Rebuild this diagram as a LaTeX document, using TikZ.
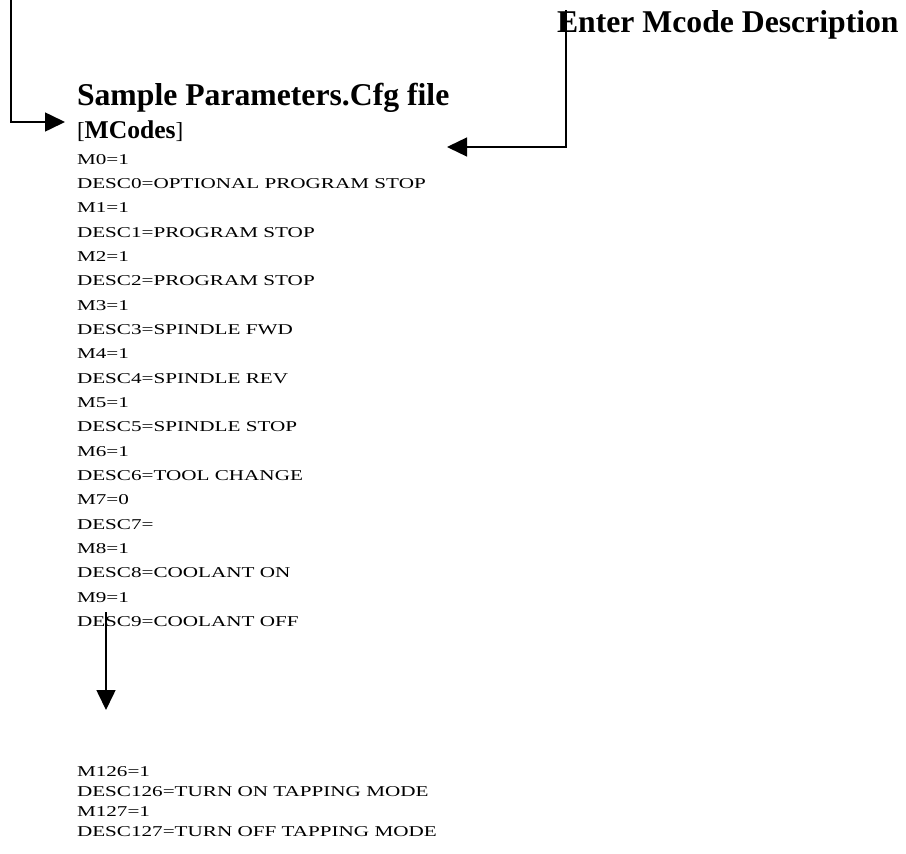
\documentclass[tikz,border=0pt]{standalone}
\usepackage{fontspec}
\setmainfont{Liberation Serif}
\newfontfamily\listfont[FakeStretch=1.41]{Liberation Serif}
\usetikzlibrary{arrows.meta}
\tikzset{
  plain/.style={inner sep=0pt, outer sep=0pt, anchor=base west},
  heading/.style={plain, font=\fontsize{31.7}{38}\selectfont\bfseries},
  listtext/.style={plain, font=\listfont\fontsize{15}{18}\selectfont},
  conn/.style={line width=1.6pt, -{Triangle[length=20pt,width=19pt]}},
}
\begin{document}
\begin{tikzpicture}[x=1pt,y=1pt]
\useasboundingbox (0,0) rectangle (906,-854);
% headings
\node[heading] (title) at (77,-105) {Sample Parameters.Cfg file};
\node[heading] (enter) at (557,-32) {Enter Mcode Description};
\node[plain] (mcodes) at (77,-138) {{\fontsize{23}{27}\selectfont[}{\fontsize{25.6}{30}\selectfont\bfseries MCodes}{\fontsize{23}{27}\selectfont]}};
% list
\foreach \t [count=\i from 0] in {M0=1, DESC0=OPTIONAL PROGRAM STOP, M1=1, DESC1=PROGRAM STOP, M2=1, DESC2=PROGRAM STOP, M3=1, DESC3=SPINDLE FWD, M4=1, DESC4=SPINDLE REV, M5=1, DESC5=SPINDLE STOP, M6=1, DESC6=TOOL CHANGE, M7=0, DESC7=, M8=1, DESC8=COOLANT ON, M9=1, DESC9=COOLANT OFF}
  \node[listtext] (l\i) at (77,{-164-\i*24.35}) {\t};
\foreach \t [count=\i from 0] in {M126=1, DESC126=TURN ON TAPPING MODE, M127=1, DESC127=TURN OFF TAPPING MODE}
  \node[listtext] (b\i) at (77,{-776-\i*20.3}) {\t};
% connectors
\coordinate (ltop) at (11,0);
\coordinate (lcorner) at (11,-122);
\coordinate (ltip) at (65,-122);
\draw[conn] (ltop) -- (lcorner) -- (ltip);
\coordinate (rtop) at (566,-10);
\coordinate (rcorner) at (566,-147);
\coordinate (rtip) at (447,-147);
\draw[conn, line width=1.3pt] (rtop) -- (rcorner) -- (rtip);
\coordinate (dtop) at (106,-612);
\coordinate (dtip) at (106,-710);
\draw[conn] (dtop) -- (dtip);
\end{tikzpicture}
\end{document}
